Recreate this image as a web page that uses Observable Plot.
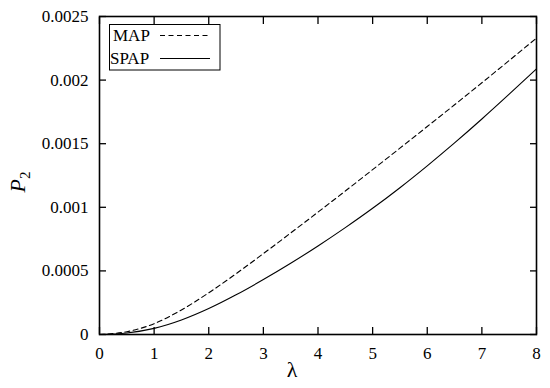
<!DOCTYPE html>
<html><head><meta charset="utf-8">
<script src="https://cdn.jsdelivr.net/npm/d3@7"></script>
<script src="https://cdn.jsdelivr.net/npm/@observablehq/plot@0.6"></script>
<style>
body{margin:0;background:#fff}
svg text, svg tspan { font-family: "Liberation Serif", "Times New Roman", serif !important; }
</style>
</head><body><div id="chart"></div>
<script>
const lambda = [0, 0.5, 1, 1.5, 2, 2.5, 3, 3.5, 4, 4.5, 5, 5.5, 6, 6.5, 7, 7.5, 8];
const mapValues = [0, 0.000022, 0.000085, 0.000193, 0.000328, 0.000478, 0.000636, 0.000798, 0.000962, 0.001128, 0.001296, 0.001465, 0.001635, 0.001806, 0.001979, 0.002154, 0.00233];
const spapValues = [0, 0.000012, 0.000048, 0.000114, 0.000204, 0.000312, 0.000432, 0.00056, 0.000696, 0.00084, 0.000992, 0.001154, 0.001326, 0.001506, 0.001694, 0.001889, 0.002089];
const seriesNames = ["MAP", "SPAP"];
const seriesDash = ["5,3.5", null];
const xTicks = [0, 1, 2, 3, 4, 5, 6, 7, 8];
const xTickLabels = ["0", "1", "2", "3", "4", "5", "6", "7", "8"];
const yTicks = [0, 0.0005, 0.001, 0.0015, 0.002, 0.0025];
const yTickLabels = ["0", "0.0005", "0.001", "0.0015", "0.002", "0.0025"];
const xLabel = "λ";

const mapData = lambda.map((l, i) => ({l, v: mapValues[i]}));
const spapData = lambda.map((l, i) => ({l, v: spapValues[i]}));
const font = "Liberation Serif, Times New Roman, serif";
const blank = () => "";

const plot = Plot.plot({
  width: 550, height: 388,
  marginLeft: 99, marginRight: 14, marginTop: 16, marginBottom: 54,
  style: {fontFamily: font, fontSize: "17px", color: "#000", background: "#fff"},
  x: {domain: [0, 8]},
  y: {domain: [0, 0.0025]},
  marks: [
    Plot.line(mapData, {x: "l", y: "v", stroke: "#000", strokeWidth: 1.1, strokeDasharray: seriesDash[0], curve: "monotone-x"}),
    Plot.line(spapData, {x: "l", y: "v", stroke: "#000", strokeWidth: 1.1, curve: "monotone-x"}),
    Plot.axisX(xTicks, {anchor: "bottom", tickSize: 0, tickPadding: 12, label: null, tickFormat: d => xTickLabels[xTicks.indexOf(d)], fontSize: 17, fontFamily: font}),
    Plot.axisX(xTicks, {anchor: "bottom", tickSize: -7, label: null, tickFormat: blank, strokeWidth: 1.3}),
    Plot.axisX(xTicks, {anchor: "top", tickSize: -7, label: null, tickFormat: blank, strokeWidth: 1.3}),
    Plot.axisY(yTicks, {anchor: "left", tickSize: 0, tickPadding: 11, label: null, tickFormat: d => yTickLabels[yTicks.indexOf(d)], fontSize: 17, fontFamily: font}),
    Plot.axisY(yTicks, {anchor: "left", tickSize: -7, label: null, tickFormat: blank, strokeWidth: 1.3}),
    Plot.axisY(yTicks, {anchor: "right", tickSize: -7, label: null, tickFormat: blank, strokeWidth: 1.3}),
    Plot.frame({stroke: "#000", strokeWidth: 1.6}),
    Plot.text([xLabel], {frameAnchor: "bottom", dx: -26, dy: 42, fontSize: 22, fontFamily: font, fill: "#000"})
  ]
});

const svg = d3.select(plot);
svg.attr("font-family", font);
svg.selectAll("text").attr("font-family", font).style("font-family", font);

// y-axis label P_2
const yl = svg.append("text")
  .attr("transform", "translate(25,182) rotate(-90)")
  .attr("text-anchor", "middle")
  .attr("font-family", font)
  .attr("font-size", 22)
  .attr("fill", "#000");
yl.append("tspan").attr("font-style", "italic").text("P");
yl.append("tspan").attr("font-size", 15).attr("dy", 5).text("2");

// legend
const lg = svg.append("g");
lg.append("rect").attr("x", 109.5).attr("y", 24.5).attr("width", 110.5).attr("height", 45.5)
  .attr("fill", "#fff").attr("stroke", "#000").attr("stroke-width", 1);
seriesNames.forEach((name, i) => {
  const cy = 35.5 + i * 23;
  lg.append("text").attr("x", i === 0 ? 113 : 110).attr("y", cy).attr("dy", "0.35em")
    .attr("text-anchor", "start")
    .attr("font-family", font).attr("font-size", 17).attr("fill", "#000").text(name);
  lg.append("line").attr("x1", 160).attr("x2", 210).attr("y1", cy).attr("y2", cy)
    .attr("stroke", "#000").attr("stroke-width", 1.1)
    .attr("stroke-dasharray", seriesDash[i]);
});

document.getElementById("chart").appendChild(plot);
</script>
</body></html>
